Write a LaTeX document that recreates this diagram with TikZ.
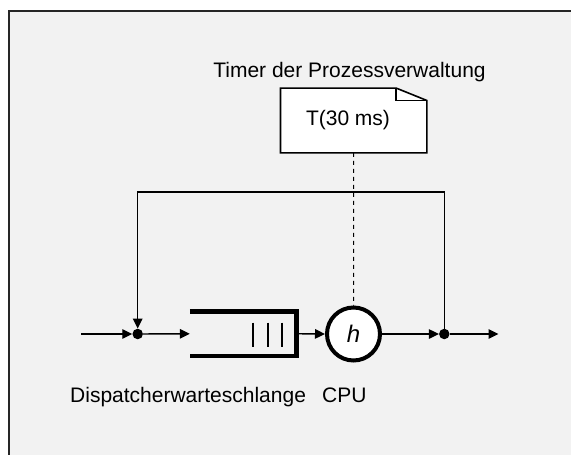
\documentclass[tikz,border=0pt]{standalone}
\usepackage{fontspec}
\setmainfont{Liberation Sans}
\usetikzlibrary{arrows.meta,calc}
\definecolor{bgpanel}{HTML}{F2F2F2}
\definecolor{framegray}{HTML}{262626}
\tikzset{
  txt/.style={font=\fontsize{21}{25}\selectfont, inner sep=0pt},
  conn/.style={line width=1.4pt, -{Triangle[length=10pt,width=9.5pt]}},
  jdot/.style={circle, fill=black, minimum size=10.5pt, inner sep=0pt},
  cpubox/.style={circle, draw, line width=4pt, fill=white, minimum size=53pt, inner sep=0pt,
                 font=\fontsize{24}{28}\selectfont\itshape},
  boxinv/.style={rectangle, inner sep=0pt, draw=none},
  notebox/.style={rectangle, inner sep=0pt, draw=none, minimum width=146pt, minimum height=64.4pt},
}
\begin{document}
\begin{tikzpicture}[x=1pt,y=1pt]
\useasboundingbox (0,0) rectangle (571,-455);
\fill[white] (0,0) rectangle (571,-455);
\fill[bgpanel] (9,-11) rectangle (571,-455);
\draw[framegray, line width=2pt] (9,-455) -- (9,-11) -- (571,-11);

% title
\node[txt, anchor=base] (title) at (349.5,-77) {Timer der Prozessverwaltung};

% note
\node[notebox] (note) at (353.7,-120.5) {};
\draw[line width=1.6pt, fill=white]
  (note.north west) -- ($(note.north east)+(-30.7,0)$) -- ($(note.north east)+(0,-12.4)$)
  -- (note.south east) -- (note.south west) -- cycle;
\draw[line width=1.6pt] ($(note.north east)+(-30.7,0)$) -- ($(note.north east)+(-30.7,-12.4)$) -- ($(note.north east)+(0,-12.4)$);
\node[txt, anchor=base] (notetext) at (348,-125) {T(30 ms)};

% queue
\node[boxinv, minimum width=106.5pt, minimum height=44.5pt] (queue) at (243.25,-333.75) {};
\draw[line width=4.5pt] (queue.north west) -- (queue.north east) -- (queue.south east) -- (queue.south west);
\foreach \bx in {253,268,282}
  \draw[line width=2.3pt] (\bx,-322.7) -- (\bx,-346.7);

% cpu
\node[cpubox] (cpu) at (353.5,-334) {h};

% junctions
\node[jdot] (dotL) at (137.7,-334) {};
\node[jdot] (dotR) at (444.3,-334) {};
\coordinate (src) at (81,-334);
\coordinate (sink) at (498.5,-334);
\coordinate (loopR) at (444.3,-192);
\coordinate (loopL) at (137.7,-192);

% connectors
\draw[conn] (src) -- (dotL);
\draw[conn] (dotL) -- (queue.west);
\draw[conn] (queue.east) -- (cpu.west);
\draw[conn] (cpu.east) -- (dotR);
\draw[conn] (dotR) -- (sink);
\draw[conn, line width=1.5pt] (dotR.center) -- (loopR) -- (loopL) -- (dotL);
\draw[line width=1pt, dash pattern=on 4pt off 4pt] (note.south) -- (cpu.north);

% labels
\node[txt, anchor=base west] (qlabel) at (70,-402.5) {Dispatcherwarteschlange};
\node[txt, anchor=base west] (cpulabel) at (322,-402.5) {CPU};
\end{tikzpicture}
\end{document}
